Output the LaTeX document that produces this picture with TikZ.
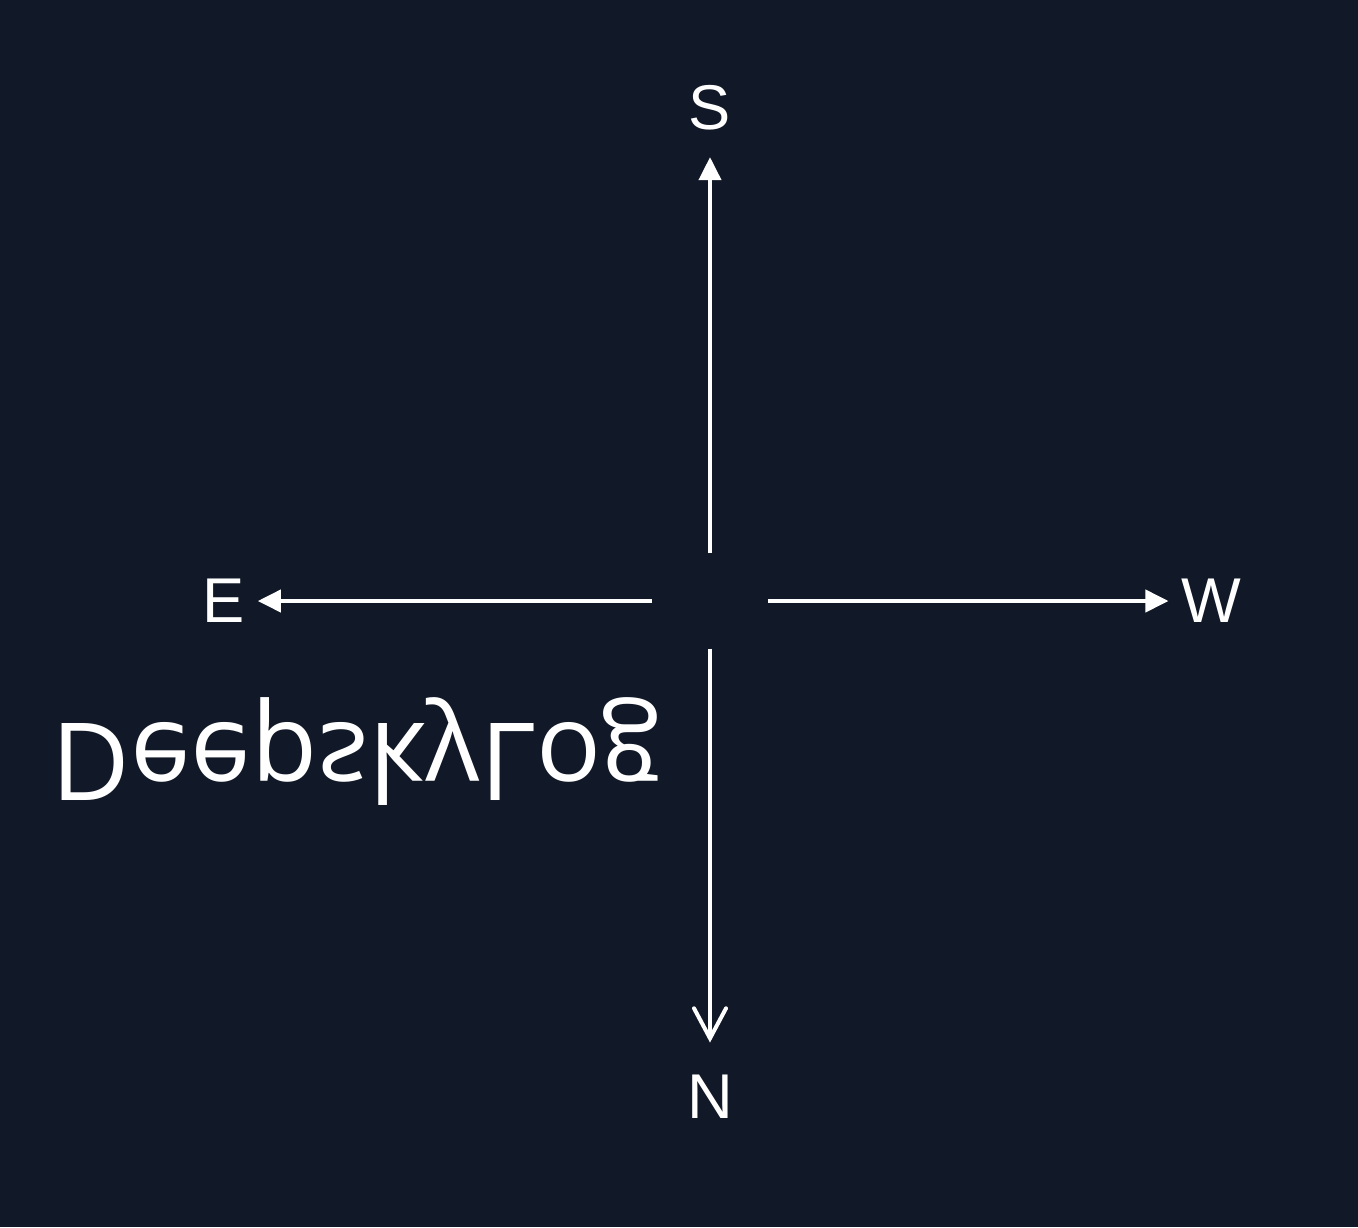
\documentclass[tikz,border=0pt]{standalone}
\usepackage{fontspec}
\setmainfont{Liberation Sans}
\newfontfamily\logofont{Open Sans}
\usetikzlibrary{arrows.meta}
\definecolor{nightbg}{HTML}{111827}
\tikzset{dirlbl/.style={text=white,inner sep=0.12cm,font=\fontsize{18}{20}\selectfont},
  pointer/.style={white,line width=0.04cm,-{Triangle[length=0.23cm,width=0.22cm]}},
  pointeropen/.style={white,line width=0.04cm,-{Straight Barb[length=0.3cm,width=0.32cm,line cap=round]}}}

\begin{document}
\begin{tikzpicture}
      \useasboundingbox (0,0) rectangle (13.58,-12.27);
      \fill[nightbg] (0,0) rectangle (13.58,-12.27);
      \node[minimum width=1.15cm,minimum height=0.94cm,inner sep=0] (o) at (7.10,-6.01) {};
      \node[dirlbl] (S) at (7.10,-1.08) {S};
      \node[dirlbl] (N) at (7.10,-10.97) {N};
      \node[dirlbl] (E) at (2.24,-6.01) {E};
      \node[dirlbl] (W) at (12.11,-6.01) {W};
      \draw[pointer,shorten >=0.14cm] (o) -- (S);
      \draw[pointer] (o) -- (E);
      \draw[pointer] (o) -- (W);
      \draw[pointeropen,shorten >=0.2cm] (o) -- (N);
      \node[text=white,inner sep=0,anchor=base west,yscale=-1,font=\logofont\fontsize{30.7}{34}\selectfont] (logo) at (0.51,-7.23) {DeepskyLog};
    \end{tikzpicture}
\end{document}
